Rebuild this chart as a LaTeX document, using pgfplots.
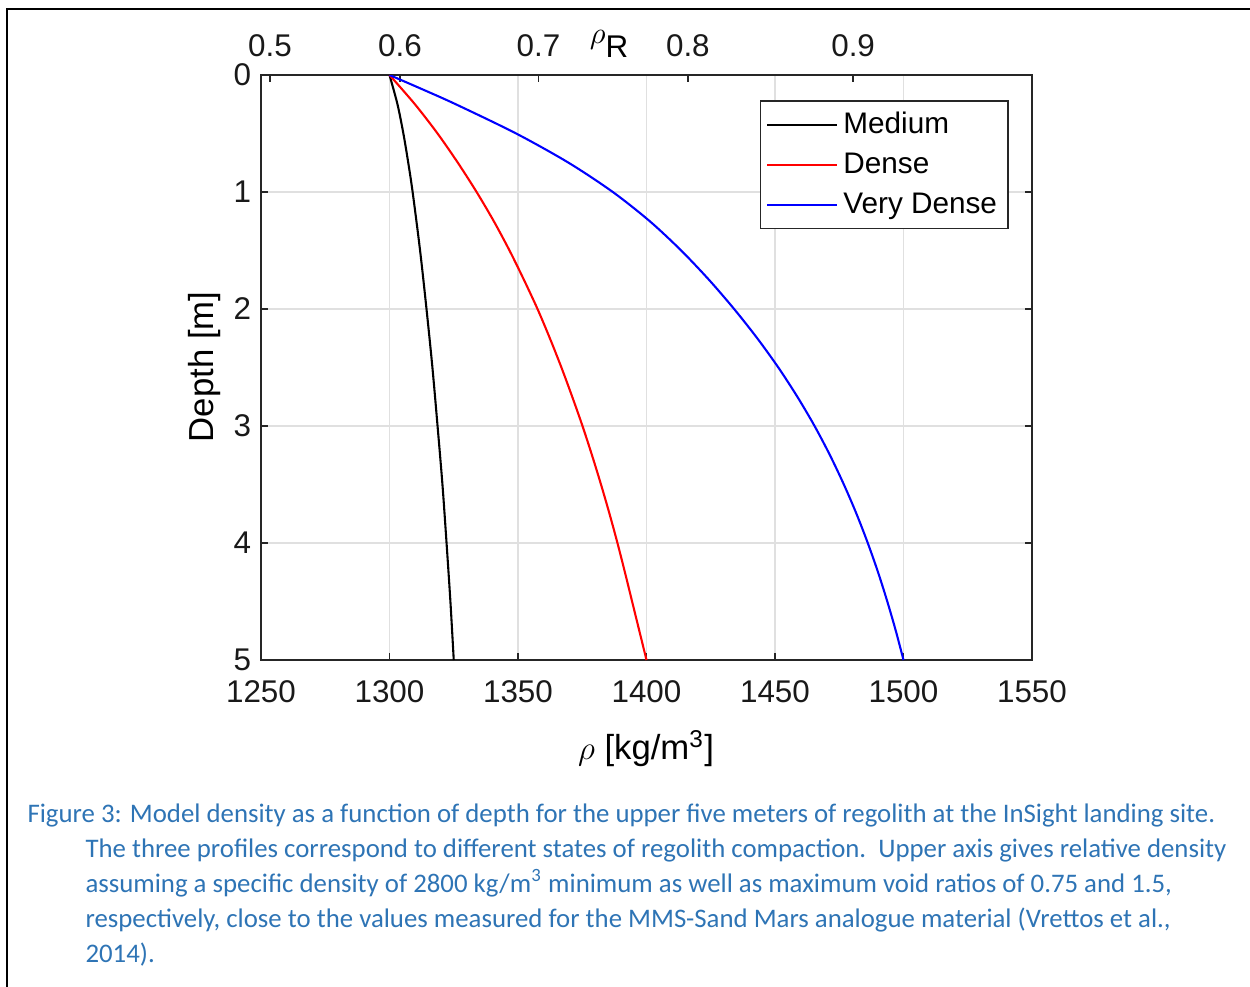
\documentclass[border=0pt]{standalone}
\usepackage{fontspec}
\setmainfont{Liberation Sans}
\newfontfamily\calibri{Carlito}
\usepackage{pgfplots}
\pgfplotsset{compat=1.18}

\definecolor{capblue}{RGB}{46,116,181}
\definecolor{axgray}{RGB}{38,38,38}

% depth [m] vs density [kg/m^3]
\pgfplotstableread{
z    rho
0.00 1300.0
0.25 1303.1
0.50 1305.4
0.75 1307.3
1.00 1309.0
1.50 1311.9
2.00 1314.4
2.50 1316.7
3.00 1318.7
3.50 1320.6
4.00 1322.2
4.50 1323.7
5.00 1325.0
}\medium

\pgfplotstableread{
z    rho
0.00 1300.0
0.25 1309.9
0.50 1318.7
0.75 1326.6
1.00 1333.9
1.25 1340.6
1.50 1346.7
1.75 1352.3
2.00 1357.6
2.25 1362.4
2.50 1366.9
2.75 1371.1
3.00 1375.1
3.25 1378.8
3.50 1382.3
3.75 1385.6
4.00 1388.7
4.25 1391.6
4.50 1394.4
4.75 1397.2
5.00 1400.0
}\dense

\pgfplotstableread{
z     rho
0.000 1300.0
0.125 1313.1
0.250 1325.8
0.500 1349.3
0.750 1369.7
1.000 1386.9
1.250 1401.3
1.500 1413.5
1.750 1424.3
2.000 1434.1
2.250 1443.1
2.500 1451.3
2.750 1458.7
3.000 1465.4
3.250 1471.4
3.500 1476.8
3.750 1481.7
4.000 1486.1
4.250 1490.1
4.500 1493.7
4.750 1497.0
5.000 1500.0
}\verydense

\begin{document}
\begin{tikzpicture}
\useasboundingbox (0pt,0pt) rectangle (450pt,-355.32pt);
\draw[line width=0.85pt] (2.52pt,-355.32pt) -- (2.52pt,-3.24pt) -- (450pt,-3.24pt);

\pgfplotsset{
  rhoaxis/.style={
    at={(93.96pt,-237.6pt)}, anchor=south west,
    scale only axis, width=277.56pt, height=210.6pt,
    xmin=1250, xmax=1550, ymin=0, ymax=5,
    tick align=inside, major tick length=2.5pt,
    axis line style={draw=axgray, line width=0.5pt},
    every tick/.style={axgray, line width=0.5pt},
    tick label style={font=\fontsize{11.3}{13}\selectfont, text=black!90},
    /pgf/number format/assume math mode=true,
    /pgf/number format/1000 sep={},
  }
}

% relative density on the upper axis
\begin{axis}[rhoaxis,
    hide y axis,
    xtick pos=upper, xticklabel pos=upper,
    xtick={1253.5,1304.1,1358.0,1416.1,1480.4},
    xticklabels={0.5,0.6,0.7,0.8,0.9},
    xticklabel style={yshift=3pt},
  ]
  \addplot[draw=none] coordinates {(1300,0)};
\end{axis}

\begin{axis}[rhoaxis,
    y dir=reverse,
    xtick={1250,1300,...,1550}, ytick={0,1,...,5},
    xtick pos=lower, ytick pos=both,
    xticklabel style={yshift=-4pt},
    grid=major, major grid style={draw=black!12, line width=0.4pt},
    legend style={at={(0.970,0.957)}, anchor=north east, draw=axgray,
      line width=0.5pt, fill=white, font=\fontsize{10.7}{12}\selectfont,
      inner xsep=2pt, inner ysep=2pt, row sep=1.5pt},
    legend cell align=left,
    legend image code/.code={\draw[#1, line width=0.75pt] (0pt,0pt) -- (25pt,0pt);},
  ]
  \addplot[black, line width=0.75pt, smooth] table[x=rho, y=z] {\medium};
  \addlegendentry{Medium}
  \addplot[red, line width=0.75pt, smooth] table[x=rho, y=z] {\dense};
  \addlegendentry{Dense}
  \addplot[blue, line width=0.75pt, smooth] table[x=rho, y=z] {\verydense};
  \addlegendentry{Very Dense}
\end{axis}

\begin{scope}[x=0.36pt,y=-0.36pt]
  \node[rotate=90, font=\fontsize{12.5}{14}\selectfont] at (205,367) {Depth [m]};
  \node[font=\fontsize{12.5}{14}\selectfont] at (646,749) {$\rho$ [kg/m\textsuperscript{3}]};
  \node[font=\fontsize{11.3}{13}\selectfont] at (609,44) {\raisebox{5pt}{$\rho$}R};
\end{scope}

\begin{scope}[x=0.36pt,y=-0.36pt,
    every node/.style={anchor=base west, inner sep=0pt, text=capblue,
      font=\calibri\fontsize{9.65}{12}\selectfont}]
  \node at (27,822) {Figure 3: Model density as a function of depth for the upper five meters of regolith at the InSight landing site.};
  \node at (85,857) {The three profiles correspond to different states of regolith compaction.\ \ Upper axis gives relative density};
  \node at (85,892) {assuming a specific density of 2800 kg/m\textsuperscript{3} minimum as well as maximum void ratios of 0.75 and 1.5,};
  \node at (85,927) {respectively, close to the values measured for the MMS-Sand Mars analogue material (Vrettos et al.,};
  \node at (85,962) {2014).};
\end{scope}
\end{tikzpicture}
\end{document}
